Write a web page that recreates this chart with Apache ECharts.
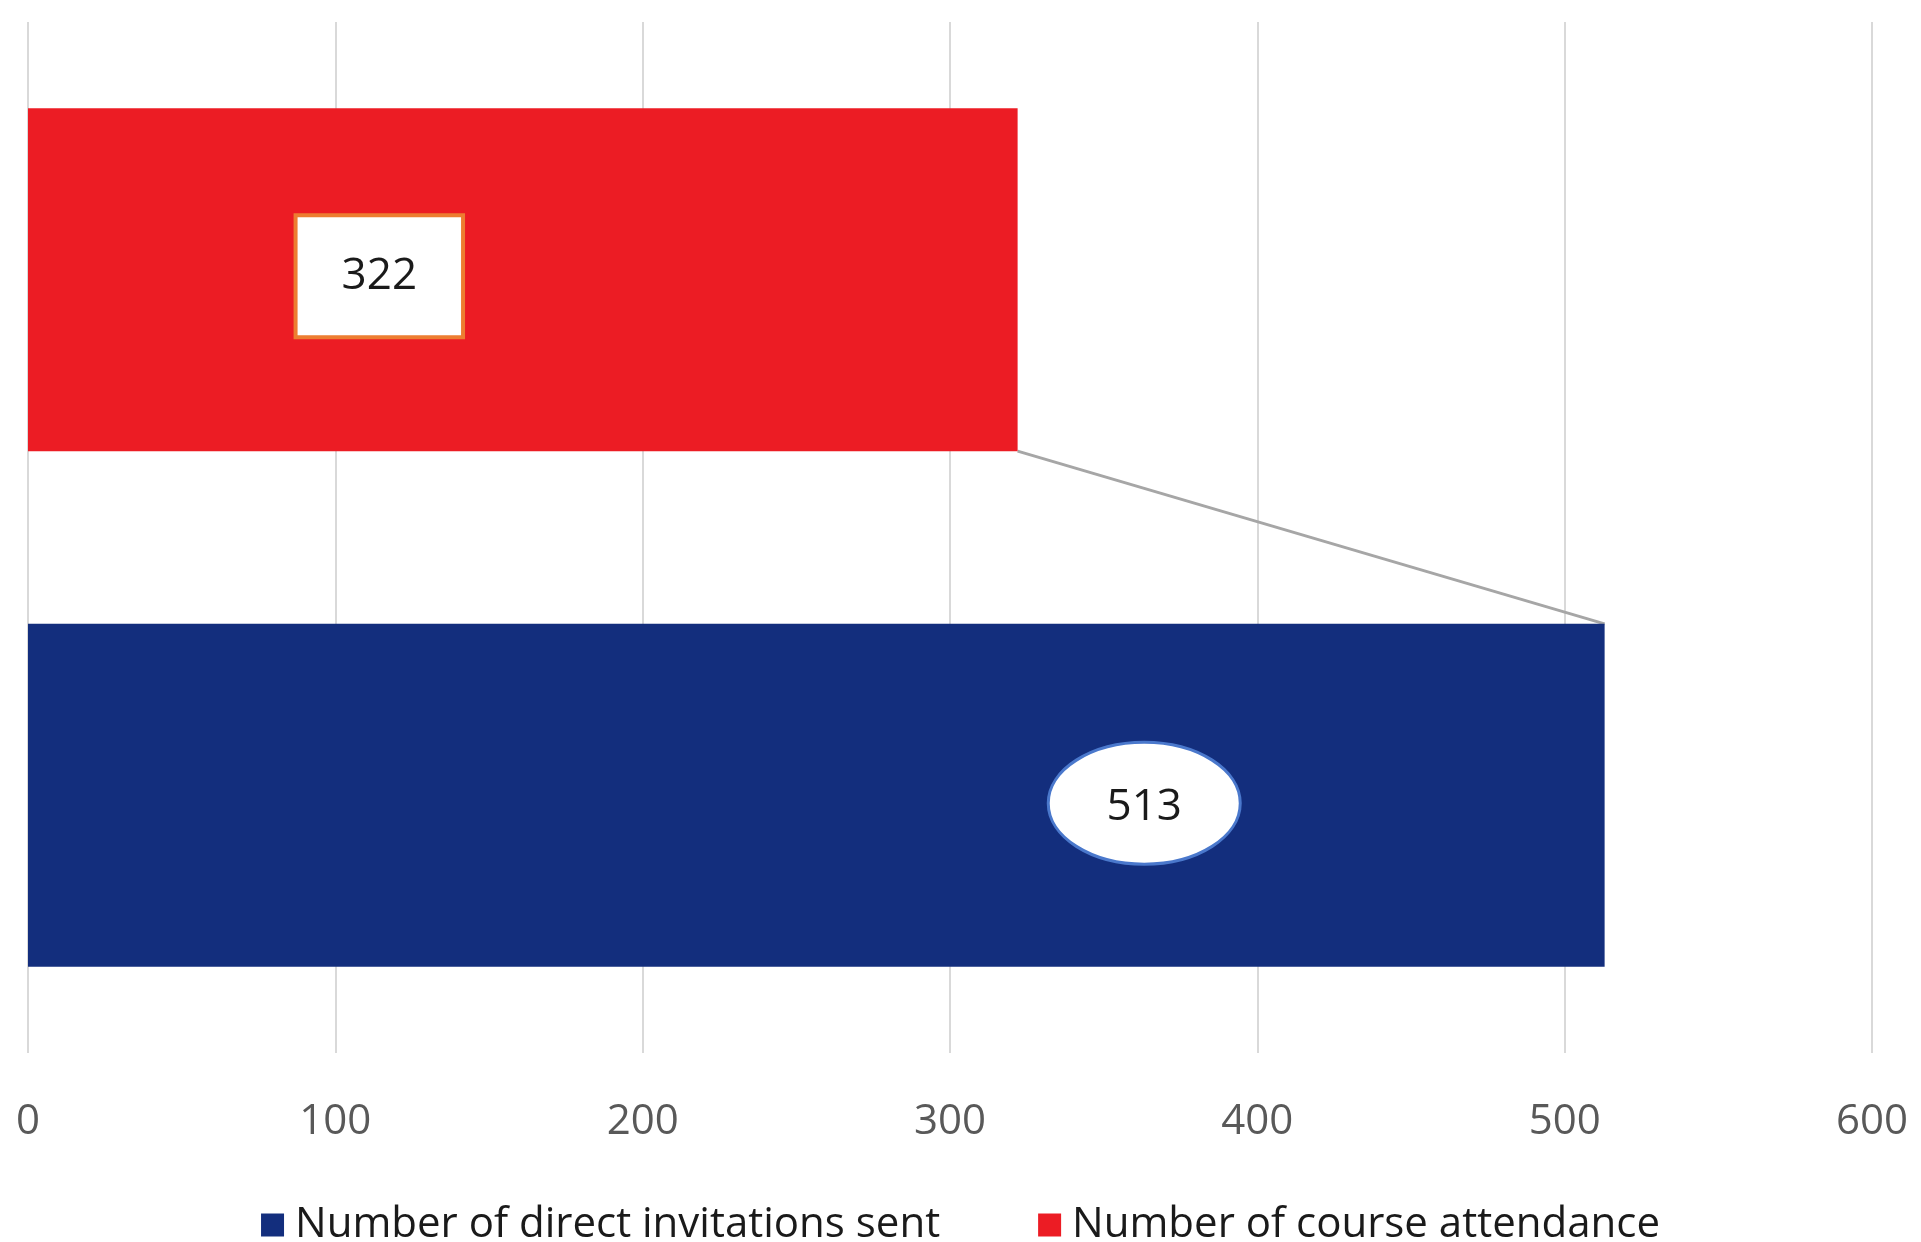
<!DOCTYPE html>
<html>
<head>
<meta charset="utf-8">
<script src="https://cdn.jsdelivr.net/npm/echarts@6/dist/echarts.min.js"></script>
<style>
  html, body { margin: 0; padding: 0; background: #fff; }
  #chart { width: 1921px; height: 1242px; }
</style>
</head>
<body>
<div id="chart"></div>
<script>
// categories, bottom to top
var categories = ['Number of direct invitations sent', 'Number of course attendance']
var invitationsSent = [513, '-']
var courseAttendance = ['-', 322]
var xTicks = { min: 0, max: 600, interval: 100 }

var BLUE = '#132e7d'
var RED = '#ec1c24'
var BAR_RATIO = 0.665

var chart = echarts.init(document.getElementById('chart'))

chart.setOption({
  animation: false,
  textStyle: { fontFamily: 'Open Sans' },
  grid: { left: 28, right: 49, top: 22, bottom: 189 },
  legend: {
    data: [categories[0], categories[1]],
    top: 1199,
    left: 'center',
    itemWidth: 23,
    itemHeight: 23,
    itemGap: 98,
    icon: 'rect',
    textStyle: { fontSize: 42, color: '#1a1a1a', fontFamily: 'Open Sans', padding: [0, 0, 0, 6] }
  },
  xAxis: {
    type: 'value',
    min: xTicks.min,
    max: xTicks.max,
    interval: xTicks.interval,
    axisLine: { show: false },
    axisTick: { show: false },
    axisLabel: { fontSize: 42, color: '#595959', margin: 48 },
    splitLine: { lineStyle: { color: '#d9d9d9', width: 2 } }
  },
  yAxis: {
    type: 'category',
    data: categories,
    axisLine: { show: false },
    axisTick: { show: false },
    axisLabel: { show: false }
  },
  series: [
    {
      name: categories[0],
      type: 'bar',
      stack: 'one',
      barWidth: (BAR_RATIO * 100) + '%',
      itemStyle: { color: BLUE },
      data: invitationsSent
    },
    {
      name: categories[1],
      type: 'bar',
      stack: 'one',
      barWidth: (BAR_RATIO * 100) + '%',
      itemStyle: { color: RED },
      label: {
        show: true,
        position: ['35.5%', '49%'],
        align: 'center',
        verticalAlign: 'middle',
        fontSize: 44,
        lineHeight: 44,
        color: '#1a1a1a',
        backgroundColor: '#fff',
        borderColor: '#ed7d31',
        borderWidth: 4,
        padding: [46, 44, 28, 44]
      },
      data: courseAttendance
    },
    {
      // series line joining the two bar ends
      type: 'custom',
      silent: true,
      clip: false,
      z: 1,
      data: [[courseAttendance[1], 1, invitationsSent[0], 0]],
      renderItem: function (params, api) {
        var half = api.size([0, 1])[1] * BAR_RATIO / 2
        var p1 = api.coord([api.value(0), api.value(1)])
        var p2 = api.coord([api.value(2), api.value(3)])
        return {
          type: 'line',
          shape: { x1: p1[0], y1: p1[1] + half, x2: p2[0], y2: p2[1] - half },
          style: { stroke: '#a6a6a6', lineWidth: 3 }
        }
      }
    },
    {
      // ellipse data label for the blue bar
      type: 'custom',
      silent: true,
      clip: false,
      z: 3,
      data: [[invitationsSent[0], 0]],
      renderItem: function (params, api) {
        var s = api.coord([0, api.value(1)])
        var e = api.coord([api.value(0), api.value(1)])
        var cx = s[0] + (e[0] - s[0]) * 0.708
        var cy = s[1] + 8
        return {
          type: 'group',
          children: [
            {
              type: 'ellipse',
              shape: { cx: cx, cy: cy, rx: 96, ry: 61 },
              style: { fill: '#fff', stroke: '#4a78cc', lineWidth: 3 }
            },
            {
              type: 'text',
              x: cx,
              y: cy + 4,
              style: {
                text: String(api.value(0)),
                fontSize: 44,
                fontFamily: 'Open Sans',
                fill: '#1a1a1a',
                align: 'center',
                verticalAlign: 'middle'
              }
            }
          ]
        }
      }
    }
  ]
})
</script>
</body>
</html>
